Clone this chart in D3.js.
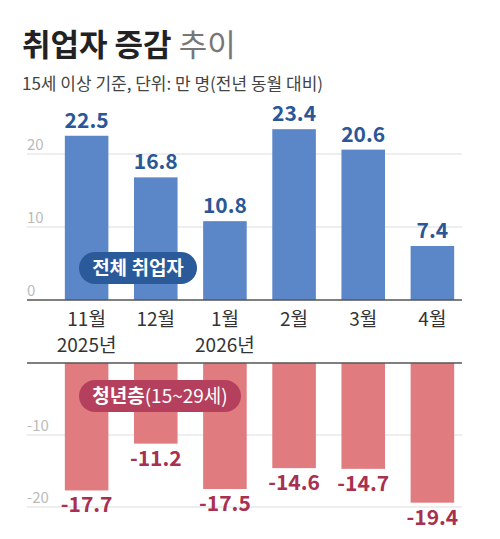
<!DOCTYPE html>
<html><head><meta charset="utf-8">
<script src="https://cdn.jsdelivr.net/npm/d3@7"></script>
<style>body{margin:0;background:#fff;font-family:"Noto Sans CJK KR","Noto Sans",sans-serif}</style>
</head><body>
<svg id="c" width="500" height="539"></svg>
<script>
var months = ['11월', '12월', '1월', '2월', '3월', '4월'];
var years = ['2025년', '', '2026년', '', '', ''];
var total = [22.5, 16.8, 10.8, 23.4, 20.6, 7.4];
var youth = [-17.7, -11.2, -17.5, -14.6, -14.7, -19.4];
var topTicks = [0, 10, 20];
var botTicks = [-10, -20];

var svg = d3.select('#c');
var font = '"Noto Sans CJK KR", sans-serif';

svg.append('text').attr('x', 22).attr('y', 56).style('font-family', font)
	.style('font-size', '31px').style('font-weight', 700).attr('fill', '#222')
	.text('취업자 증감 ')
	.append('tspan').style('font-weight', 400).attr('fill', '#777').text('추이');
svg.append('text').attr('x', 22).attr('y', 90).style('font-family', font)
	.style('font-size', '17px').attr('fill', '#444').text('15세 이상 기준, 단위: 만 명(전년 동월 대비)');

var x = d3.scaleBand().domain(months).range([51, 468]).paddingInner(0.37).paddingOuter(0.2);
var yT = d3.scaleLinear().domain([0, 20]).range([300, 154]);
var yB = d3.scaleLinear().domain([0, -20]).range([363, 507]);

function grid(scale, ticks, x0, x1) {
	ticks.forEach(function(t) {
		svg.append('line').attr('x1', x0).attr('x2', x1).attr('y1', scale(t)).attr('y2', scale(t))
			.attr('stroke', '#ddd').attr('stroke-width', 1);
		svg.append('text').attr('x', 27).attr('y', scale(t) - 4).style('font-family', font)
			.style('font-size', '15px').attr('fill', '#bbb').text(t);
	});
}
grid(yT, [10, 20], 27, 462);
grid(yB, botTicks, 27, 462);
svg.append('text').attr('x', 27).attr('y', 296).style('font-family', font)
	.style('font-size', '15px').attr('fill', '#bbb').text('0');

svg.selectAll('.tb').data(total).enter().append('rect')
	.attr('x', function(d, i) { return x(months[i]); })
	.attr('width', x.bandwidth())
	.attr('y', function(d) { return yT(d); })
	.attr('height', function(d) { return yT(0) - yT(d); })
	.attr('fill', '#5b87c9');
svg.selectAll('.tl').data(total).enter().append('text')
	.attr('x', function(d, i) { return x(months[i]) + x.bandwidth() / 2; })
	.attr('y', function(d) { return yT(d) - 8; })
	.attr('text-anchor', 'middle').style('font-family', font).style('font-size', '21px')
	.style('font-weight', 700).attr('fill', '#2b5797').text(function(d) { return d; });

svg.selectAll('.yb').data(youth).enter().append('rect')
	.attr('x', function(d, i) { return x(months[i]); })
	.attr('width', x.bandwidth())
	.attr('y', yB(0))
	.attr('height', function(d) { return yB(d) - yB(0); })
	.attr('fill', '#e07b7f');
svg.selectAll('.yl').data(youth).enter().append('text')
	.attr('x', function(d, i) { return x(months[i]) + x.bandwidth() / 2; })
	.attr('y', function(d) { return yB(d) + 22; })
	.attr('text-anchor', 'middle').style('font-family', font).style('font-size', '21px')
	.style('font-weight', 700).attr('fill', '#a83050').text(function(d) { return '-' + Math.abs(d); });

svg.append('line').attr('x1', 27).attr('x2', 462).attr('y1', yT(0)).attr('y2', yT(0)).attr('stroke', '#555').attr('stroke-width', 1.5);
svg.append('line').attr('x1', 27).attr('x2', 462).attr('y1', yB(0)).attr('y2', yB(0)).attr('stroke', '#555').attr('stroke-width', 1.5);

months.forEach(function(m, i) {
	var cx = x(m) + x.bandwidth() / 2;
	svg.append('text').attr('x', cx).attr('y', 326).attr('text-anchor', 'middle').style('font-family', font)
		.style('font-size', '19px').attr('fill', '#333').text(m);
	if (years[i]) svg.append('text').attr('x', cx).attr('y', 352).attr('text-anchor', 'middle').style('font-family', font)
		.style('font-size', '19px').attr('fill', '#333').text(years[i]);
});

function pill(cx, cy, w, color, label, extra) {
	svg.append('rect').attr('x', cx - w / 2).attr('y', cy - 16).attr('width', w).attr('height', 32)
		.attr('rx', 16).attr('fill', color);
	var t = svg.append('text').attr('x', cx).attr('y', cy + 7).attr('text-anchor', 'middle').style('font-family', font)
		.style('font-size', '19px').style('font-weight', 700).attr('fill', '#fff').text(label);
	if (extra) t.append('tspan').style('font-weight', 400).text(extra);
}
pill(138, 268, 118, '#2a5a9a', '전체 취업자');
pill(160, 396, 162, '#b5405e', '청년층', '(15~29세)');
</script>
</body></html>
